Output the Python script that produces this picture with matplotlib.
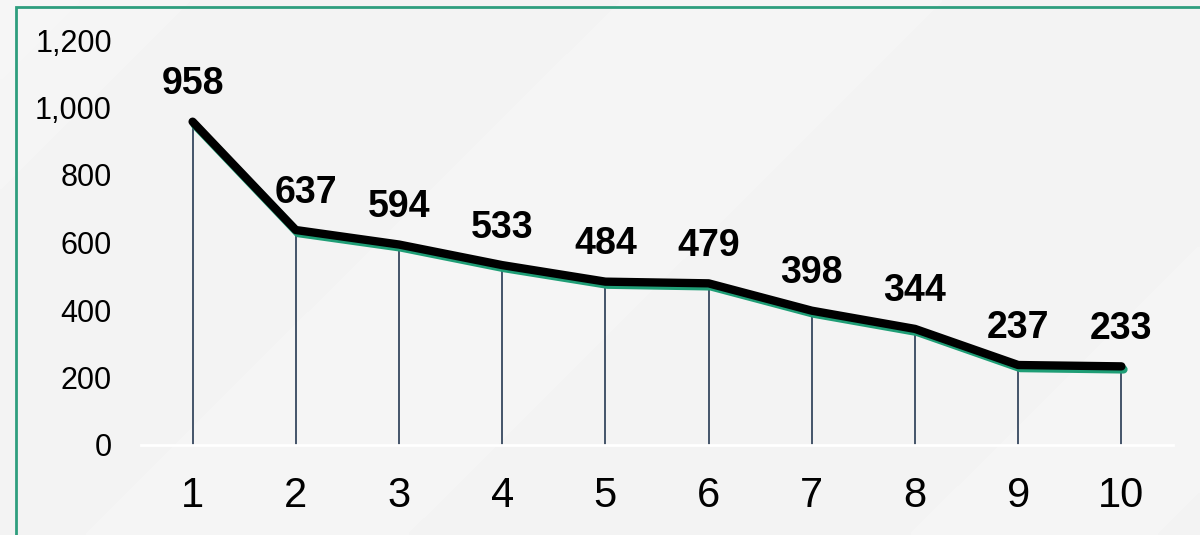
# Line chart with drop lines, bold value labels and a green shadow under the line
import numpy as np
import matplotlib.pyplot as plt
import matplotlib.patheffects as pe
from matplotlib.patches import Rectangle
from matplotlib.ticker import FuncFormatter

# data
ranks = [1, 2, 3, 4, 5, 6, 7, 8, 9, 10]
values = [958, 637, 594, 533, 484, 479, 398, 344, 237, 233]
y_ticks = [0, 200, 400, 600, 800, 1000, 1200]

plt.rcParams['font.family'] = ['Liberation Sans', 'DejaVu Sans']

fig = plt.figure(figsize=(12, 5.35), dpi=100)
fig.patch.set_facecolor('#f4f4f4')

# soft diagonal streaks in the background
bg = fig.add_axes([0, 0, 1, 1], zorder=-10)
gx, gy = np.meshgrid(np.linspace(0, 1200, 300), np.linspace(0, 535, 140))
d = (gx + gy) / 1735.0
shade = 0.957 + 0.005 * np.cos(d * 2 * np.pi * 2.2) - 0.003 * d
bg.imshow(shade, cmap='gray', vmin=0, vmax=1, aspect='auto',
          extent=[0, 1200, 535, 0], interpolation='bilinear')
bg.set_xlim(0, 1200)
bg.set_ylim(535, 0)
bg.axis('off')

# green frame (runs off the right and bottom edges)
fig.patches.append(Rectangle((16 / 1200, -0.05), 1.2, (535 - 7) / 535 + 0.05,
                             transform=fig.transFigure, fill=False,
                             edgecolor='#2e9e7e', linewidth=2, zorder=5))

ax = fig.add_axes([141 / 1200, (535 - 445) / 535, (1173 - 141) / 1200, 405 / 535])
ax.set_facecolor('none')

# drop lines from each point to the axis
ax.vlines(ranks, 0, values, color='#44546a', linewidth=1.4, zorder=2)

# the line, with a green shadow a few pixels below
ax.plot(ranks, values, color='black', linewidth=6, solid_capstyle='round',
        solid_joinstyle='round', zorder=3,
        path_effects=[pe.SimpleLineShadow(offset=(1.5, -2.2), shadow_color='#1f9e76',
                                          alpha=1.0, rho=1.0),
                      pe.Normal()])

# value labels (the one at the sharp corner sits a bit to the right)
for x, v in zip(ranks, values):
    dx = 7 if x == 2 else 0
    ax.annotate(str(v), (x, v), xytext=(dx, 14), textcoords='offset points',
                ha='center', va='bottom', fontsize=27, fontweight='bold', color='black')

ax.set_xlim(0.5, 10.5)
ax.set_ylim(0, 1200)
ax.set_xticks(ranks)
ax.set_yticks(y_ticks)
ax.yaxis.set_major_formatter(FuncFormatter(lambda v, p: f'{int(v):,}'))
ax.tick_params(axis='x', length=0, labelsize=30, pad=22)
ax.tick_params(axis='y', length=0, labelsize=22, pad=21)

for s in ['top', 'right', 'left']:
    ax.spines[s].set_visible(False)
ax.spines['bottom'].set_color('white')
ax.spines['bottom'].set_linewidth(2)

fig.savefig('out.png', dpi=100, facecolor=fig.get_facecolor())
